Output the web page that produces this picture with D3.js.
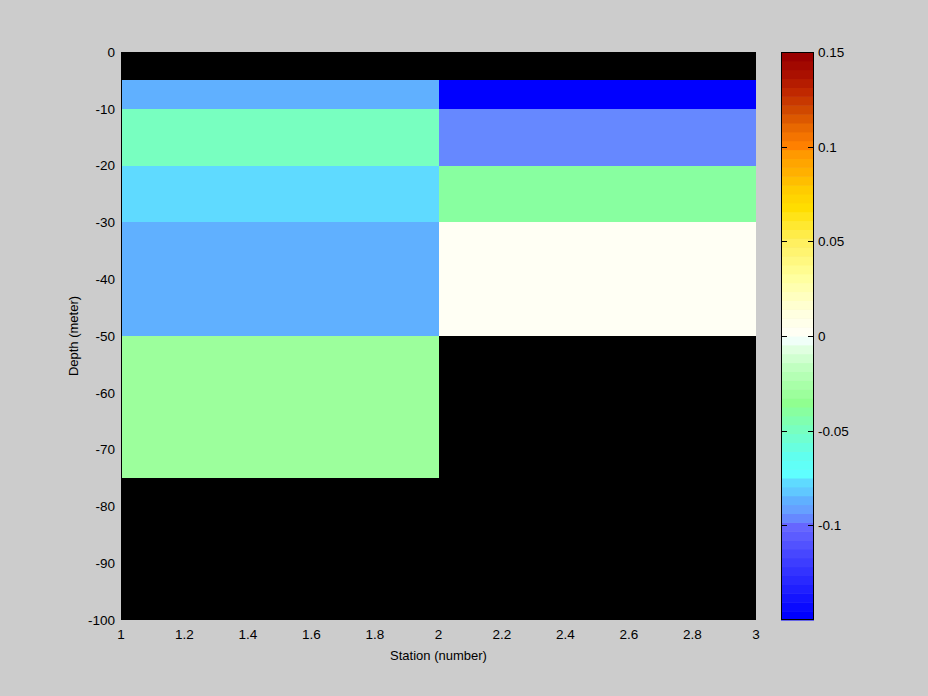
<!DOCTYPE html>
<html><head><meta charset="utf-8">
<script src="https://cdn.jsdelivr.net/npm/d3@7"></script>
<style>
html,body{margin:0;padding:0;background:#cccccc;}
svg text{font-family:"Liberation Sans",Arial,sans-serif;font-size:13.5px;fill:#000;}
</style></head>
<body>
<svg id="chart" width="928" height="696"></svg>
<script>
// ---- data ----
const stations = [1, 2, 3];                                  // station edges
const depthEdges = [0, -5, -10, -20, -30, -50, -75, -100];   // depth edges (m)
const station1Values = [NaN, -0.087, -0.049, -0.077, -0.087, -0.030, NaN];
const station2Values = [NaN, -0.148, -0.096, -0.042, 0.002, NaN, NaN];
const xTicks = [1, 1.2, 1.4, 1.6, 1.8, 2, 2.2, 2.4, 2.6, 2.8, 3];
const yTicks = [0, -10, -20, -30, -40, -50, -60, -70, -80, -90, -100];
const cTicks = [0.15, 0.1, 0.05, 0, -0.05, -0.1];
const cDomain = [-0.15, 0.15];
const nLevels = 64;
// colormap stops: [level index, colour]
const cmapIdx = [0,10,11,12,13,14,15,16,18,20,22,24,26,28,30,31,32,34,36,38,40,42,44,46,48,50,52,53,55,57,59,61,63];
const cmapCol = ["#0000ff","#6666ff","#6688ff","#66a0ff","#60b0ff","#60c8ff","#5fdaff","#5fffff","#60ffee","#70ffd0","#80ffb0","#90ff90","#a8ffa8","#c0ffc0","#e0ffe0","#f0fff8","#fffff4","#ffffe0","#ffffc0","#ffffa0","#fff880","#fff060","#ffe830","#ffdd00","#ffcc00","#ffb000","#ff9900","#ff8000","#e86800","#d04800","#c02800","#aa1000","#990000"];

// ---- layout ----
const svg = d3.select("#chart");
const L = 121, R = 756, T = 52, B = 620;
const x = d3.scaleLinear().domain([1, 3]).range([L, R]);
const y = d3.scaleLinear().domain([0, -100]).range([T, B]);

const idxColor = d3.scaleLinear().domain(cmapIdx).range(cmapCol).interpolate(d3.interpolateRgb);
const levels = d3.range(nLevels).map(i => idxColor(i));
const color = d3.scaleQuantize().domain(cDomain).range(levels);

svg.append("rect").attr("width", 928).attr("height", 696).attr("fill", "#cccccc");

// cells
const columns = [station1Values, station2Values];
const cells = [];
columns.forEach((vals, ci) => {
  vals.forEach((v, ri) => {
    cells.push({x0: stations[ci], x1: stations[ci + 1], y0: depthEdges[ri], y1: depthEdges[ri + 1], v});
  });
});
svg.append("g").selectAll("rect").data(cells).join("rect")
  .attr("x", d => x(d.x0))
  .attr("y", d => y(d.y0))
  .attr("width", d => x(d.x1) - x(d.x0))
  .attr("height", d => y(d.y1) - y(d.y0))
  .attr("fill", d => isNaN(d.v) ? "#000000" : color(d.v))
  .attr("shape-rendering", "crispEdges");

svg.append("line").attr("x1", L + 0.5).attr("x2", L + 0.5).attr("y1", T).attr("y2", B)
  .attr("stroke", "#000").attr("shape-rendering", "crispEdges");

// y tick labels
svg.append("g").selectAll("text").data(yTicks).join("text")
  .attr("x", 115).attr("y", d => y(d)).attr("dy", "0.36em")
  .attr("text-anchor", "end").text(d => d);

// x tick labels
svg.append("g").selectAll("text").data(xTicks).join("text")
  .attr("x", d => x(d)).attr("y", 639)
  .attr("text-anchor", "middle").text(d => d);

// axis titles
svg.append("text").attr("x", (L + R) / 2).attr("y", 660).attr("text-anchor", "middle")
  .style("font-size", "13px").text("Station (number)");
svg.append("text").attr("transform", `translate(78,${(T + B) / 2}) rotate(-90)`)
  .attr("text-anchor", "middle").style("font-size", "13px").text("Depth (meter)");

// colorbar
const cbL = 781, cbR = 814;
const cy = d3.scaleLinear().domain(cDomain).range([B, T]);
const step = (cDomain[1] - cDomain[0]) / nLevels;
svg.append("g").selectAll("rect").data(levels).join("rect")
  .attr("x", cbL).attr("width", cbR - cbL)
  .attr("y", (c, i) => cy(cDomain[0] + (i + 1) * step))
  .attr("height", (c, i) => cy(cDomain[0] + i * step) - cy(cDomain[0] + (i + 1) * step) + 0.5)
  .attr("fill", c => c);
svg.append("rect").attr("x", cbL + 0.5).attr("y", T + 0.5).attr("width", cbR - cbL - 1).attr("height", B - T - 1)
  .attr("fill", "none").attr("stroke", "#000").attr("shape-rendering", "crispEdges");
const ct = svg.append("g").selectAll("g").data(cTicks).join("g");
ct.append("line").attr("x1", cbL).attr("x2", cbL + 6).attr("y1", d => Math.round(cy(d)) + 0.5).attr("y2", d => Math.round(cy(d)) + 0.5)
  .attr("stroke", "#000");
ct.append("line").attr("x1", cbR - 6).attr("x2", cbR).attr("y1", d => Math.round(cy(d)) + 0.5).attr("y2", d => Math.round(cy(d)) + 0.5)
  .attr("stroke", "#000");
ct.append("text").attr("x", 818).attr("y", d => cy(d)).attr("dy", "0.36em").text(d => d);
</script>
</body></html>
